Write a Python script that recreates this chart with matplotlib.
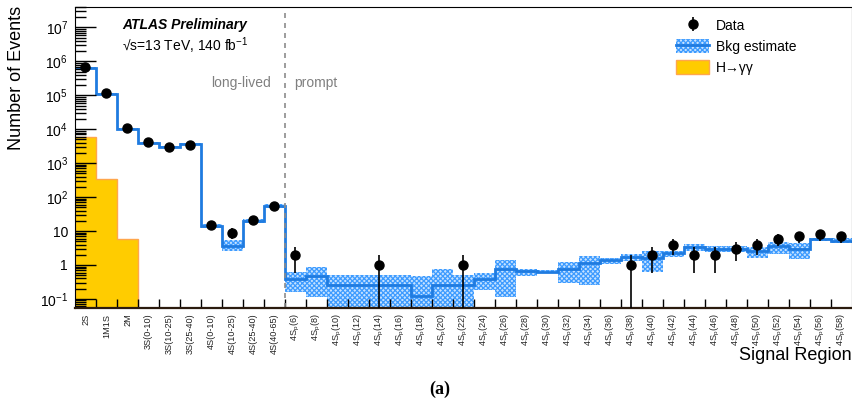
import numpy as np
import matplotlib
matplotlib.use('Agg')
import matplotlib.pyplot as plt
from matplotlib.patches import Patch
from matplotlib.lines import Line2D
from matplotlib.legend_handler import HandlerTuple
from matplotlib.ticker import LogLocator, FuncFormatter

plt.rcParams['font.family'] = ['Liberation Sans', 'DejaVu Sans']
plt.rcParams['mathtext.fontset'] = 'custom'
plt.rcParams['mathtext.rm'] = 'Liberation Sans'
plt.rcParams['mathtext.it'] = 'Liberation Sans:italic'
plt.rcParams['mathtext.bf'] = 'Liberation Sans:bold'
plt.rcParams['hatch.linewidth'] = 0.9

### Data ###
regions = ['2S', '1M1S', '2M', '3S(0-10)', '3S(10-25)', '3S(25-40)',
           '4S(0-10)', '4S(10-25)', '4S(25-40)', '4S(40-65)',
           r'4S$_\mathrm{p}$(6)', r'4S$_\mathrm{p}$(8)', r'4S$_\mathrm{p}$(10)', r'4S$_\mathrm{p}$(12)',
           r'4S$_\mathrm{p}$(14)', r'4S$_\mathrm{p}$(16)', r'4S$_\mathrm{p}$(18)', r'4S$_\mathrm{p}$(20)',
           r'4S$_\mathrm{p}$(22)', r'4S$_\mathrm{p}$(24)', r'4S$_\mathrm{p}$(26)', r'4S$_\mathrm{p}$(28)',
           r'4S$_\mathrm{p}$(30)', r'4S$_\mathrm{p}$(32)', r'4S$_\mathrm{p}$(34)', r'4S$_\mathrm{p}$(36)',
           r'4S$_\mathrm{p}$(38)', r'4S$_\mathrm{p}$(40)', r'4S$_\mathrm{p}$(42)', r'4S$_\mathrm{p}$(44)',
           r'4S$_\mathrm{p}$(46)', r'4S$_\mathrm{p}$(48)', r'4S$_\mathrm{p}$(50)', r'4S$_\mathrm{p}$(52)',
           r'4S$_\mathrm{p}$(54)', r'4S$_\mathrm{p}$(56)', r'4S$_\mathrm{p}$(58)']

data = [6.6e5, 1.15e5, 1.07e4, 4.1e3, 3.0e3, 3.5e3, 15, 9, 21, 54,
        2, 0, 0, 0, 1, 0, 0, 0, 1, 0, 0, 0, 0, 0, 0, 0,
        1, 2, 4, 2, 2, 3, 4, 6, 7, 8, 7]

bkg = [6.5e5, 1.1e5, 1.0e4, 3.9e3, 3.0e3, 3.6e3, 14, 3.7, 20, 55,
       0.39, 0.48, 0.25, 0.25, 0.25, 0.25, 0.12, 0.25, 0.25, 0.39, 0.76, 0.67, 0.64, 0.76, 1.17, 1.4,
       1.76, 1.57, 2.2, 3.3, 2.95, 2.95, 2.58, 3.7, 2.95, 5.8, 5.2]

bkg_up = [7.0e5, 1.18e5, 1.08e4, 4.2e3, 3.2e3, 3.85e3, 16, 5.4, 23, 62,
          0.62, 0.85, 0.51, 0.51, 0.51, 0.51, 0.47, 0.76, 0.51, 0.57, 1.4, 0.76, 0.7, 1.2, 1.84, 1.57,
          2.06, 2.58, 2.6, 4.06, 3.6, 3.6, 3.3, 4.66, 4.35, 6.3, 6.1]

bkg_dn = [6.1e5, 1.03e5, 0.93e4, 3.6e3, 2.8e3, 3.4e3, 12, 2.6, 17.5, 48,
          0.157, 0.117, 1e-3, 1e-3, 1e-3, 1e-3, 1e-3, 1e-3, 1e-3, 0.18, 0.117, 0.47, 0.58, 0.29, 0.25, 1.07,
          1.34, 0.61, 1.76, 2.6, 2.36, 2.36, 1.64, 2.06, 1.5, 5.2, 4.5]

hgg = [5.9e3, 3.4e2, 5.7]

edges = np.arange(len(regions) + 1)
centers = edges[:-1] + 0.5
d = np.array(data, dtype=float)

band_face = '#c6e2ff'
band_hatch = '#3d9bff'
bkg_color = '#1f7be0'

fig = plt.figure(figsize=(8.53, 4.05), dpi=100)
ax = fig.add_axes([75/853, 1 - 308/405, 777/853, 301/405])

# H->yy signal
ax.stairs(hgg, edges[:len(hgg)+1], fill=True, baseline=1e-3, color='#ffcc00', lw=0)
ax.stairs(hgg, edges[:len(hgg)+1], baseline=1e-3, color='#ffa64d', lw=1)

# Background estimate with band
ax.stairs(bkg_up, edges, baseline=bkg_dn, fill=True, facecolor=band_face,
          edgecolor=band_hatch, hatch='xxxxxxx', lw=0)
ax.stairs(bkg, edges, baseline=None, color=bkg_color, lw=2)

# Data
m = d > 0
err_lo = np.minimum(np.sqrt(d[m]), d[m] * 0.9999)
err_hi = np.sqrt(d[m])
data_h = ax.errorbar(centers[m], d[m], yerr=[err_lo, err_hi], fmt='o', color='black',
                     ms=6.5, elinewidth=1.2, capsize=0, zorder=5)

# Axes
ax.set_yscale('log')
ax.set_ylim(0.054, 4e7)
ax.set_xlim(0, len(regions))

def ylabel_fmt(v, pos):
    e = int(round(np.log10(v)))
    if e == 0:
        return '1'
    if e == 1:
        return '10'
    return r'$10^{%d}$' % e

ax.yaxis.set_major_locator(LogLocator(base=10, numticks=20))
ax.yaxis.set_minor_locator(LogLocator(base=10, subs=np.arange(2, 10), numticks=20))
ax.yaxis.set_major_formatter(FuncFormatter(ylabel_fmt))
ax.tick_params(axis='y', which='major', direction='in', length=15, width=1, labelsize=10, pad=5)
ax.tick_params(axis='y', which='minor', direction='in', length=8, width=1)

ax.set_xticks(edges[1:-1])
ax.set_xticklabels([])
ax.set_xticks(centers, minor=True)
ax.set_xticklabels(regions, minor=True, rotation=90, fontsize=6.6, va='top', color='#222222')
ax.tick_params(axis='x', which='major', direction='in', length=6.5, width=1)
ax.tick_params(axis='x', which='minor', length=0, pad=4)
ax.spines['bottom'].set_color('#2b1b0e')
ax.spines['bottom'].set_linewidth(1.6)

# Separator
ax.axvline(10, color='#8c8c8c', ls=(0, (3, 3)), lw=1.2)
ax.text(9.33, 0.7475, 'long-lived', transform=ax.get_xaxis_transform(), ha='right', va='center',
        fontsize=10, color='#808080')
ax.text(10.43, 0.7475, 'prompt', transform=ax.get_xaxis_transform(), ha='left', va='center',
        fontsize=10, color='#808080')

# Labels
ax.text(0.0605, 0.94, 'ATLAS Preliminary', transform=ax.transAxes, fontsize=10,
        fontweight='bold', style='italic', va='center')
ax.text(0.0605, 0.873, '√s=13 TeV, 140 fb$^{-1}$', transform=ax.transAxes, fontsize=10, va='center')
fig.text(17/853, 1 - 6/405, 'Number of Events', rotation=90, ha='center', va='top', fontsize=13)
fig.text(852/853, 1 - 355/405, 'Signal Region', ha='right', va='center', fontsize=13)
fig.text(440/853, 1 - 389/405, '(a)', ha='center', va='center', fontsize=13,
         family='Liberation Serif', fontweight='bold')

# Legend
band_h = Patch(facecolor=band_face, edgecolor=band_hatch, hatch='xxxxxxx', lw=0)
line_h = Line2D([], [], color=bkg_color, lw=2)
hgg_h = Patch(facecolor='#ffcc00', edgecolor='#ffa64d', lw=1)
ax.legend([data_h, (band_h, line_h), hgg_h], ['Data', 'Bkg estimate', 'H→γγ'],
          handler_map={tuple: HandlerTuple(ndivide=1, pad=0)},
          loc='upper left', bbox_to_anchor=(676/853, 1 - 18/405), bbox_transform=fig.transFigure,
          frameon=False, fontsize=10, borderpad=0, borderaxespad=0, handlelength=2.4,
          handleheight=1.2, handletextpad=0.45, labelspacing=0.45)

fig.savefig('out.png', dpi=100)
